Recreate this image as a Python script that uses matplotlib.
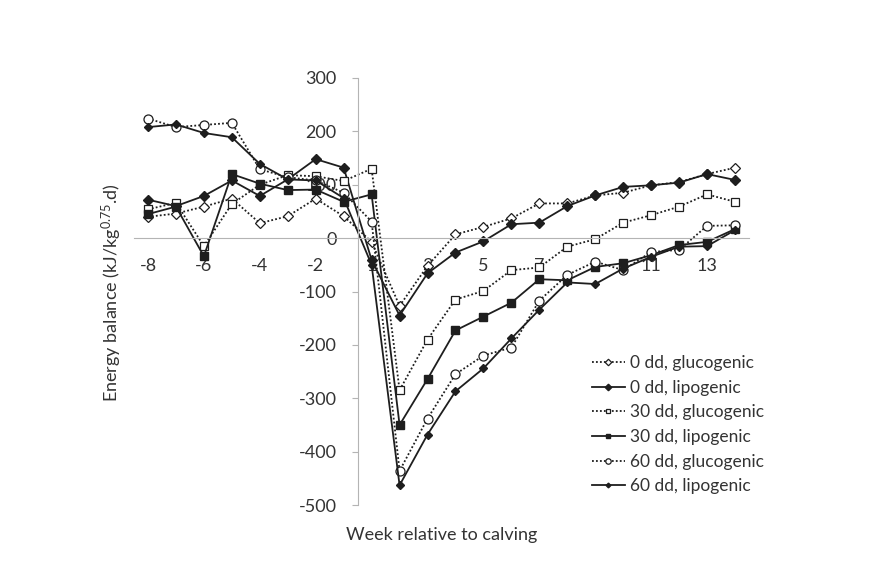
import matplotlib.pyplot as plt

plt.rcParams['font.family'] = ['Lato', 'DejaVu Sans']
plt.rcParams['mathtext.fontset'] = 'custom'
plt.rcParams['mathtext.rm'] = 'Lato'
plt.rcParams['mathtext.it'] = 'Lato'

# weeks relative to calving (there is no week 0)
weeks = [-8, -7, -6, -5, -4, -3, -2, -1, 1, 2, 3, 4, 5, 6, 7, 8, 9, 10, 11, 12, 13, 14]

# energy balance, kJ/kg^0.75.d
gluc_0 = [40, 46, 59, 74, 28, 41, 74, 41, -7, -127, -52, 7, 21, 37, 65, 65, 80, 85, 99, 105, 120, 132]
lipo_0 = [72, 60, 79, 108, 79, 110, 148, 132, -41, -145, -66, -27, -6, 26, 29, 60, 80, 96, 99, 104, 120, 109]
gluc_30 = [54, 66, -15, 64, 100, 118, 116, 107, 130, -285, -190, -115, -99, -60, -55, -16, -2, 29, 43, 59, 82, 68]
lipo_30 = [45, 59, -34, 120, 102, 90, 91, 68, 82, -350, -264, -173, -147, -121, -77, -79, -54, -47, -32, -13, -7, 17]
gluc_60 = [224, 208, 212, 216, 129, 114, 108, 85, 31, -436, -338, -255, -220, -205, -117, -69, -44, -60, -26, -22, 23, 24]
lipo_60 = [208, 213, 197, 189, 139, 110, 108, 75, -50, -463, -368, -287, -244, -188, -134, -83, -86, -57, -35, -16, -15, 15]

labels = ['0 dd, glucogenic', '0 dd, lipogenic', '30 dd, glucogenic',
          '30 dd, lipogenic', '60 dd, glucogenic', '60 dd, lipogenic']

yticks = [-500, -400, -300, -200, -100, 0, 100, 200, 300]

x = list(range(len(weeks)))
ink = '#1e1e1e'
dotted = (0, (1, 1.2))

fig = plt.figure(figsize=(8.84, 5.87), dpi=100)
ax = fig.add_axes([134 / 884, 1 - 505 / 587, 615 / 884, 427 / 587])

ax.plot(x, gluc_0, linestyle=dotted, color=ink, lw=1.3, marker='D', ms=5.5,
        mfc='white', mec=ink, mew=0.9, label=labels[0])
ax.plot(x, lipo_0, linestyle='-', color=ink, lw=1.3, marker='D', ms=5.5,
        mfc=ink, mec=ink, label=labels[1])
ax.plot(x, gluc_30, linestyle=dotted, color=ink, lw=1.3, marker='s', ms=6,
        mfc='white', mec=ink, mew=0.9, label=labels[2])
ax.plot(x, lipo_30, linestyle='-', color=ink, lw=1.3, marker='s', ms=6,
        mfc=ink, mec=ink, label=labels[3])
ax.plot(x, gluc_60, linestyle=dotted, color=ink, lw=1.3, marker='o', ms=6.5,
        mfc='white', mec=ink, mew=0.9, label=labels[4])
ax.plot(x, lipo_60, linestyle='-', color=ink, lw=1.3, marker='D', ms=4,
        mfc=ink, mec=ink, label=labels[5])

ax.set_xlim(-0.5, len(weeks) - 0.5)
ax.set_ylim(-500, 300)

# axes cross like in the spreadsheet: y axis between week -1 and 1, x axis at 0
for s in ['top', 'right']:
    ax.spines[s].set_visible(False)
ax.spines['left'].set_position(('data', 7.5))
ax.spines['bottom'].set_position(('data', 0))
ax.spines['left'].set_color('#b4b4b4')
ax.spines['bottom'].set_color('#b4b4b4')

ax.set_xticks(x[::2])
ax.set_xticklabels([str(w) for w in weeks[::2]])
ax.tick_params(axis='x', length=0, pad=14, labelsize=13, labelcolor='#333333')

ax.set_yticks(yticks)
ax.set_yticklabels([str(v) for v in yticks])
ax.tick_params(axis='y', length=4, width=0.8, color='#b4b4b4', pad=11,
               labelsize=13, labelcolor='#333333')

fig.text(112 / 884, 1 - 293 / 587, r'Energy balance (kJ/kg$^{0.75}$.d)',
         rotation=90, ha='center', va='center', fontsize=13, color='#333333')
fig.text(442 / 884, 1 - 535 / 587, 'Week relative to calving',
         ha='center', va='center', fontsize=13, color='#333333')

ax.legend(loc='upper left', bbox_to_anchor=(592 / 884, 1 - 355 / 587),
          bbox_transform=fig.transFigure, frameon=False, fontsize=12.5,
          handlelength=1.9, handletextpad=0.3, labelspacing=0.5,
          markerscale=0.6, labelcolor='#333333', borderaxespad=0, borderpad=0)

fig.savefig('out.png', dpi=100)
